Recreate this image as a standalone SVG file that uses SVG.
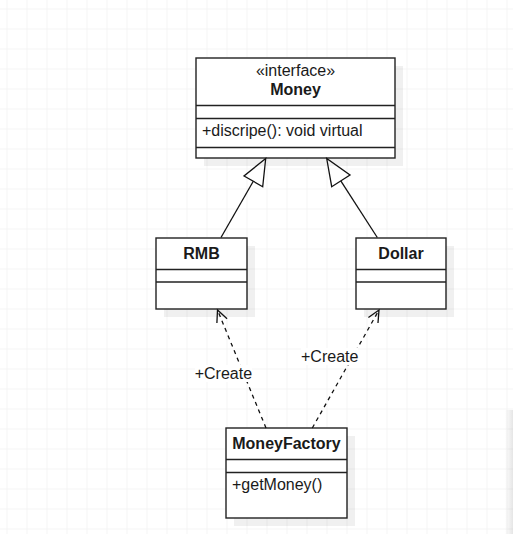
<svg xmlns="http://www.w3.org/2000/svg" width="513" height="534" viewBox="0 0 513 534">
  <defs>
    <pattern id="grid" x="6.5" y="8.5" width="20" height="20" patternUnits="userSpaceOnUse">
      <path d="M 0 0 H 20 M 0 0 V 20" fill="none" stroke="#ececec" stroke-width="1"/>
    </pattern>
    <linearGradient id="edge" x1="0" y1="0" x2="1" y2="0">
      <stop offset="0" stop-color="#000" stop-opacity="0"/>
      <stop offset="1" stop-color="#000" stop-opacity="0.1"/>
    </linearGradient>
    <marker id="open" viewBox="-14 -7 16 14" refX="0" refY="0" markerWidth="16" markerHeight="14" markerUnits="userSpaceOnUse" orient="auto">
      <path d="M -11.8 -5.5 L 0 0 L -11.8 5.5" fill="none" stroke="#111" stroke-width="1.3"/>
    </marker>
  </defs>
  <style>
    .box { fill: #ffffff; stroke: #222; stroke-width: 1.4; }
    .div { stroke: #222; stroke-width: 1.4; }
    .shadow { fill: #000; fill-opacity: 0.06; }
    text { font-family: "Liberation Sans", Arial, sans-serif; font-size: 16px; fill: #1a1a1a; }
    .b { font-weight: bold; }
    .c { text-anchor: middle; }
    .gen { fill: none; stroke: #111; stroke-width: 1.3; }
    .dep { fill: none; stroke: #111; stroke-width: 1.3; stroke-dasharray: 4 4; }
  </style>
  <rect x="0" y="0" width="513" height="534" fill="#ffffff"/>
  <rect x="0" y="0" width="513" height="534" fill="url(#grid)"/>
  <rect x="505" y="410" width="8" height="124" fill="url(#edge)"/>

  <g id="Money">
    <rect class="shadow" x="204" y="66" width="199" height="100"/>
    <rect class="box" x="196" y="58" width="199" height="100"/>
    <line class="div" x1="196" y1="105.5" x2="395" y2="105.5"/>
    <line class="div" x1="196" y1="118.5" x2="395" y2="118.5"/>
    <line class="div" x1="196" y1="147.5" x2="395" y2="147.5"/>
    <text class="c" x="295.5" y="76">«interface»</text>
    <text class="c b" x="295.5" y="95">Money</text>
    <text x="202" y="136">+discripe(): void virtual</text>
  </g>

  <g id="RMB">
    <rect class="shadow" x="164" y="246" width="91" height="71"/>
    <rect class="box" x="156" y="238" width="91" height="71"/>
    <line class="div" x1="156" y1="269.5" x2="247" y2="269.5"/>
    <line class="div" x1="156" y1="282" x2="247" y2="282"/>
    <text class="c b" x="201.5" y="259">RMB</text>
  </g>

  <g id="Dollar">
    <rect class="shadow" x="364" y="246" width="90" height="71"/>
    <rect class="box" x="356" y="238" width="90" height="71"/>
    <line class="div" x1="356" y1="269.5" x2="446" y2="269.5"/>
    <line class="div" x1="356" y1="282" x2="446" y2="282"/>
    <text class="c b" x="401" y="259">Dollar</text>
  </g>

  <g id="MoneyFactory">
    <rect class="shadow" x="234" y="436" width="121" height="90"/>
    <rect class="box" x="226" y="428" width="121" height="90"/>
    <line class="div" x1="226" y1="459.5" x2="347" y2="459.5"/>
    <line class="div" x1="226" y1="472.5" x2="347" y2="472.5"/>
    <text class="c b" x="286.5" y="449">MoneyFactory</text>
    <text x="232" y="490">+getMoney()</text>
  </g>

  <g id="connectors">
    <line class="gen" x1="253.3" y1="181.3" x2="221" y2="237.5"/>
    <polygon class="gen" points="265.7,158.5 244,176 262.7,186.7" fill="#fff"/>
    <line class="gen" x1="340.8" y1="180.8" x2="377.3" y2="237.5"/>
    <polygon class="gen" points="326.7,158.5 331.7,186.7 350,175" fill="#fff"/>

    <line class="dep" x1="266" y1="428" x2="217.5" y2="310" marker-end="url(#open)"/>
    <line class="dep" x1="312.3" y1="428" x2="379" y2="310" marker-end="url(#open)"/>
    <rect x="195" y="365" width="57" height="17" fill="#ffffff"/>
    <text class="c" x="223.4" y="379">+Create</text>
    <rect x="301" y="348" width="57" height="17" fill="#ffffff"/>
    <text class="c" x="329.7" y="361.7">+Create</text>
  </g>
</svg>
